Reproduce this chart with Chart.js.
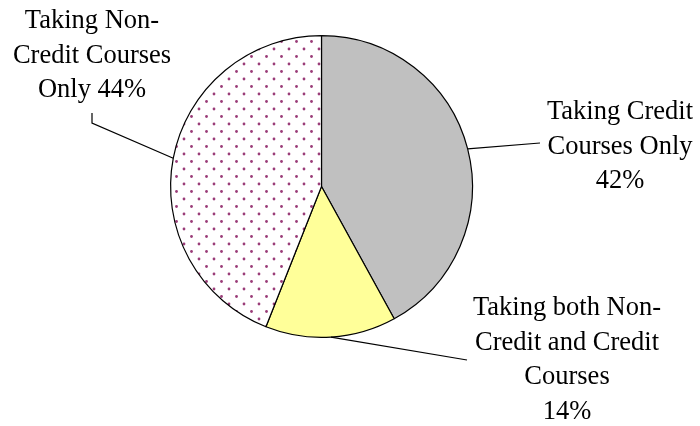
<!DOCTYPE html>
<html>
<head>
<meta charset="utf-8">
<script src="https://cdn.jsdelivr.net/npm/chart.js@4/dist/chart.umd.min.js"></script>
<style>
  html, body { margin: 0; padding: 0; background: #fff; }
  #wrap { width: 700px; height: 426px; }
</style>
</head>
<body>
<div id="wrap"><canvas id="pieChart" width="700" height="426"></canvas></div>
<script>
// slices, clockwise from 12 o'clock
var categories = ['Credit Only', 'Both', 'Non-Credit Only'];
var percents = [42, 14, 44];
var labelLines = [
    ['Taking Credit', 'Courses Only'],
    ['Taking both Non-', 'Credit and Credit', 'Courses'],
    ['Taking Non-', 'Credit Courses', 'Only']
];
// percent goes on its own line, or appended to the last text line
var pctOwnLine = [true, true, false];

// dotted fill for the non-credit slice
function dotPattern() {
    var c = document.createElement('canvas');
    c.width = 15; c.height = 15;
    var x = c.getContext('2d');
    x.fillStyle = '#ffffff';
    x.fillRect(0, 0, 15, 15);
    x.fillStyle = '#9a3c78';
    x.beginPath(); x.arc(4, 4, 1.4, 0, Math.PI * 2); x.fill();
    x.beginPath(); x.arc(11.5, 11.5, 1.4, 0, Math.PI * 2); x.fill();
    return x.createPattern(c, 'repeat');
}

// label text block + leader line per slice
var labelPlaces = [
    { x: 620, y: 119, to: [[540, 143]] },
    { x: 567, y: 315, to: [[467, 360]] },
    { x: 92, y: 28, to: [[92, 123], [92, 113]] }
];

var leaderLabels = {
    id: 'leaderLabels',
    afterDraw: function (chart) {
        var ctx = chart.ctx;
        var meta = chart.getDatasetMeta(0);
        ctx.save();
        meta.data.forEach(function (arc, i) {
            var p = arc.getProps(['x', 'y', 'startAngle', 'endAngle', 'outerRadius'], true);
            var mid = (p.startAngle + p.endAngle) / 2;
            var sx = p.x + Math.cos(mid) * p.outerRadius;
            var sy = p.y + Math.sin(mid) * p.outerRadius;
            var pl = labelPlaces[i];
            ctx.strokeStyle = '#000';
            ctx.lineWidth = 1.2;
            ctx.beginPath();
            ctx.moveTo(sx, sy);
            pl.to.forEach(function (pt) { ctx.lineTo(pt[0], pt[1]); });
            ctx.stroke();

            var lines = labelLines[i].slice();
            var pct = percents[i] + '%';
            if (pctOwnLine[i]) lines.push(pct);
            else lines[lines.length - 1] += ' ' + pct;
            ctx.fillStyle = '#000';
            ctx.font = '26.5px "Liberation Serif", "Times New Roman", serif';
            ctx.textAlign = 'center';
            ctx.textBaseline = 'alphabetic';
            lines.forEach(function (t, k) {
                ctx.fillText(t, pl.x, pl.y + k * 34.5);
            });
        });
        ctx.restore();
    }
};

var ctx = document.getElementById('pieChart').getContext('2d');
new Chart(ctx, {
    type: 'pie',
    data: {
        labels: categories,
        datasets: [{
            data: percents,
            backgroundColor: ['#c0c0c0', '#ffff99', dotPattern()],
            borderColor: '#000000',
            borderWidth: 1.2
        }]
    },
    options: {
        responsive: false,
        animation: false,
        layout: { padding: { left: 170, right: 227, top: 35, bottom: 88 } },
        plugins: {
            legend: { display: false },
            tooltip: { enabled: false }
        }
    },
    plugins: [leaderLabels]
});
</script>
</body>
</html>
